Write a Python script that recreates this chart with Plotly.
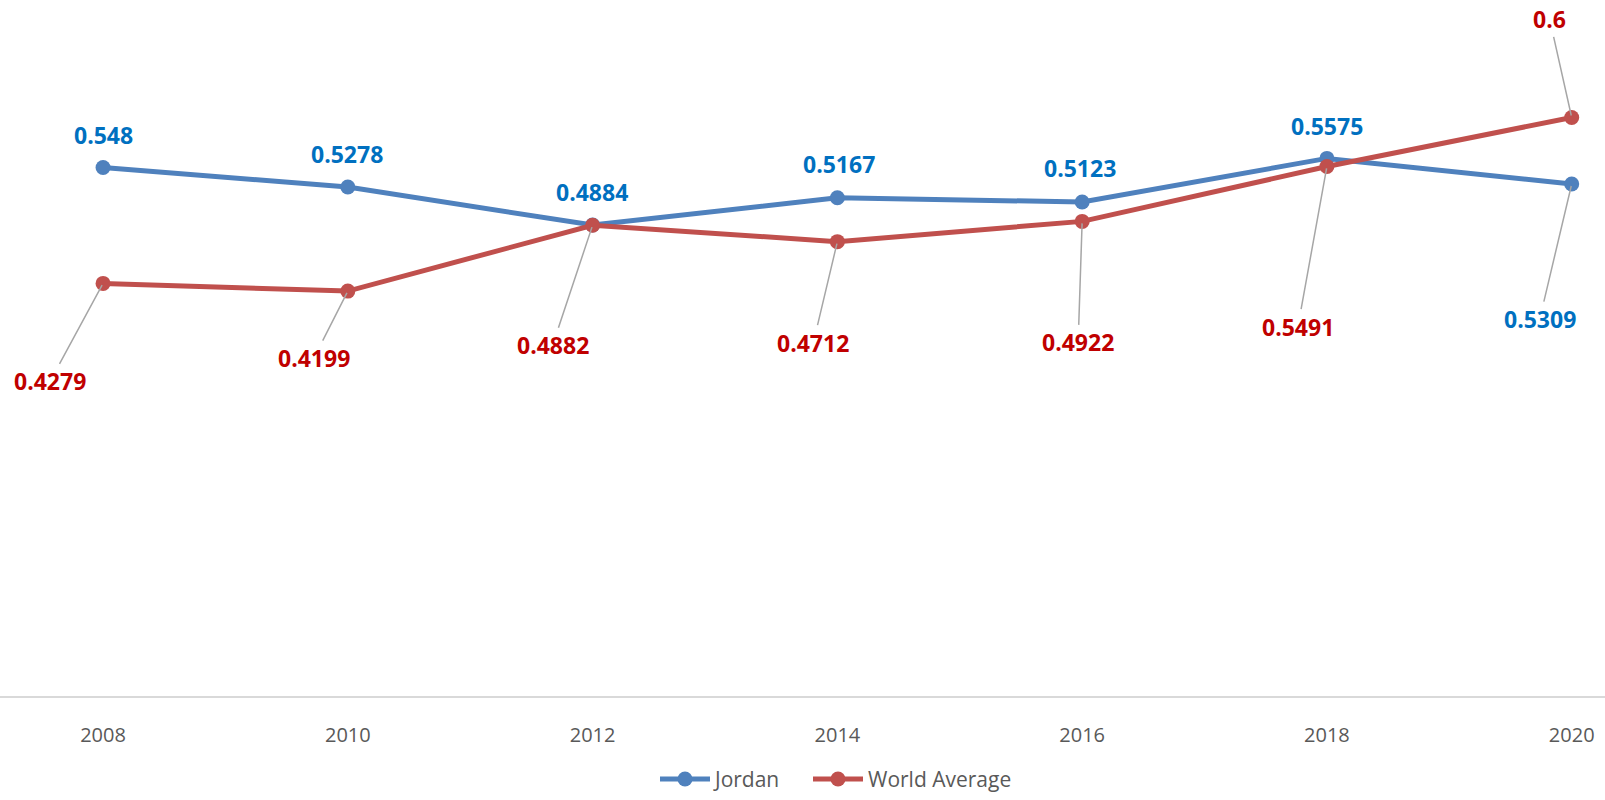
import plotly.graph_objects as go

years = ["2008", "2010", "2012", "2014", "2016", "2018", "2020"]
jordan = [0.548, 0.5278, 0.4884, 0.5167, 0.5123, 0.5575, 0.5309]
world = [0.4279, 0.4199, 0.4882, 0.4712, 0.4922, 0.5491, 0.6]

# label placement offsets in pixels (dx, dy) relative to each point; leader = draw line
jordan_offsets = [(0, -33, False), (-1, -33, False), (-1, -33, False), (2, -34, False),
                  (-2, -34, False), (0, -32, False), (-32, 135, True)]
world_offsets = [(-53, 98, True), (-34, 67, True), (-40, 120, True), (-24, 101, True),
                 (-4, 121, True), (-29, 160, True), (-22, -98, True)]

BLUE_LINE = "#4F81BD"
RED_LINE = "#C0504D"
BLUE_TEXT = "#0070C0"
RED_TEXT = "#C00000"
FONT = "Open Sans"

fig = go.Figure()
fig.add_trace(go.Scatter(x=years, y=jordan, name="Jordan", mode="lines+markers",
                         line=dict(color=BLUE_LINE, width=5),
                         marker=dict(size=15, color=BLUE_LINE), legend="legend"))
fig.add_trace(go.Scatter(x=years, y=world, name="World Average", mode="lines+markers",
                         line=dict(color=RED_LINE, width=5),
                         marker=dict(size=15, color=RED_LINE), legend="legend2"))

annotations = []
for values, offsets, color in ((jordan, jordan_offsets, BLUE_TEXT), (world, world_offsets, RED_TEXT)):
    for idx, (v, (dx, dy, leader)) in enumerate(zip(values, offsets)):
        text = f"{v:g}"
        font = dict(family=FONT, size=23, color=color, weight="bold")
        # category axis positions are given as the serial index of each year
        if leader:
            annotations.append(dict(x=idx, y=v, xref="x", yref="y", text=text, font=font,
                                    showarrow=True, arrowhead=0, arrowwidth=1.5,
                                    arrowcolor="#A6A6A6", ax=dx, ay=dy, standoff=2))
        else:
            annotations.append(dict(x=idx, y=v, xref="x", yref="y", text=text, font=font,
                                    showarrow=False, xshift=dx, yshift=-dy))

legend_style = dict(orientation="h", xanchor="left", y=-0.1235, yanchor="middle",
                    font=dict(size=21, color="#595959"), itemwidth=50)

fig.update_layout(
    width=1605, height=800,
    margin=dict(l=0, r=0, t=21, b=99),
    paper_bgcolor="white", plot_bgcolor="white",
    font=dict(family=FONT, color="#595959"),
    annotations=annotations,
    hovermode=False,
    showlegend=True,
    legend=dict(x=655 / 1605, **legend_style),
    legend2=dict(x=808 / 1605, **legend_style),
    xaxis=dict(type="category", range=[-0.421, 6.136], showgrid=False, zeroline=False,
               showline=True, linecolor="#D9D9D9", linewidth=1.5, ticks="",
               tickfont=dict(size=20, color="#595959"), ticklabelstandoff=20),
    yaxis=dict(range=[0, 0.7], visible=False, showgrid=False, zeroline=False),
)

fig.write_html("out.html")
